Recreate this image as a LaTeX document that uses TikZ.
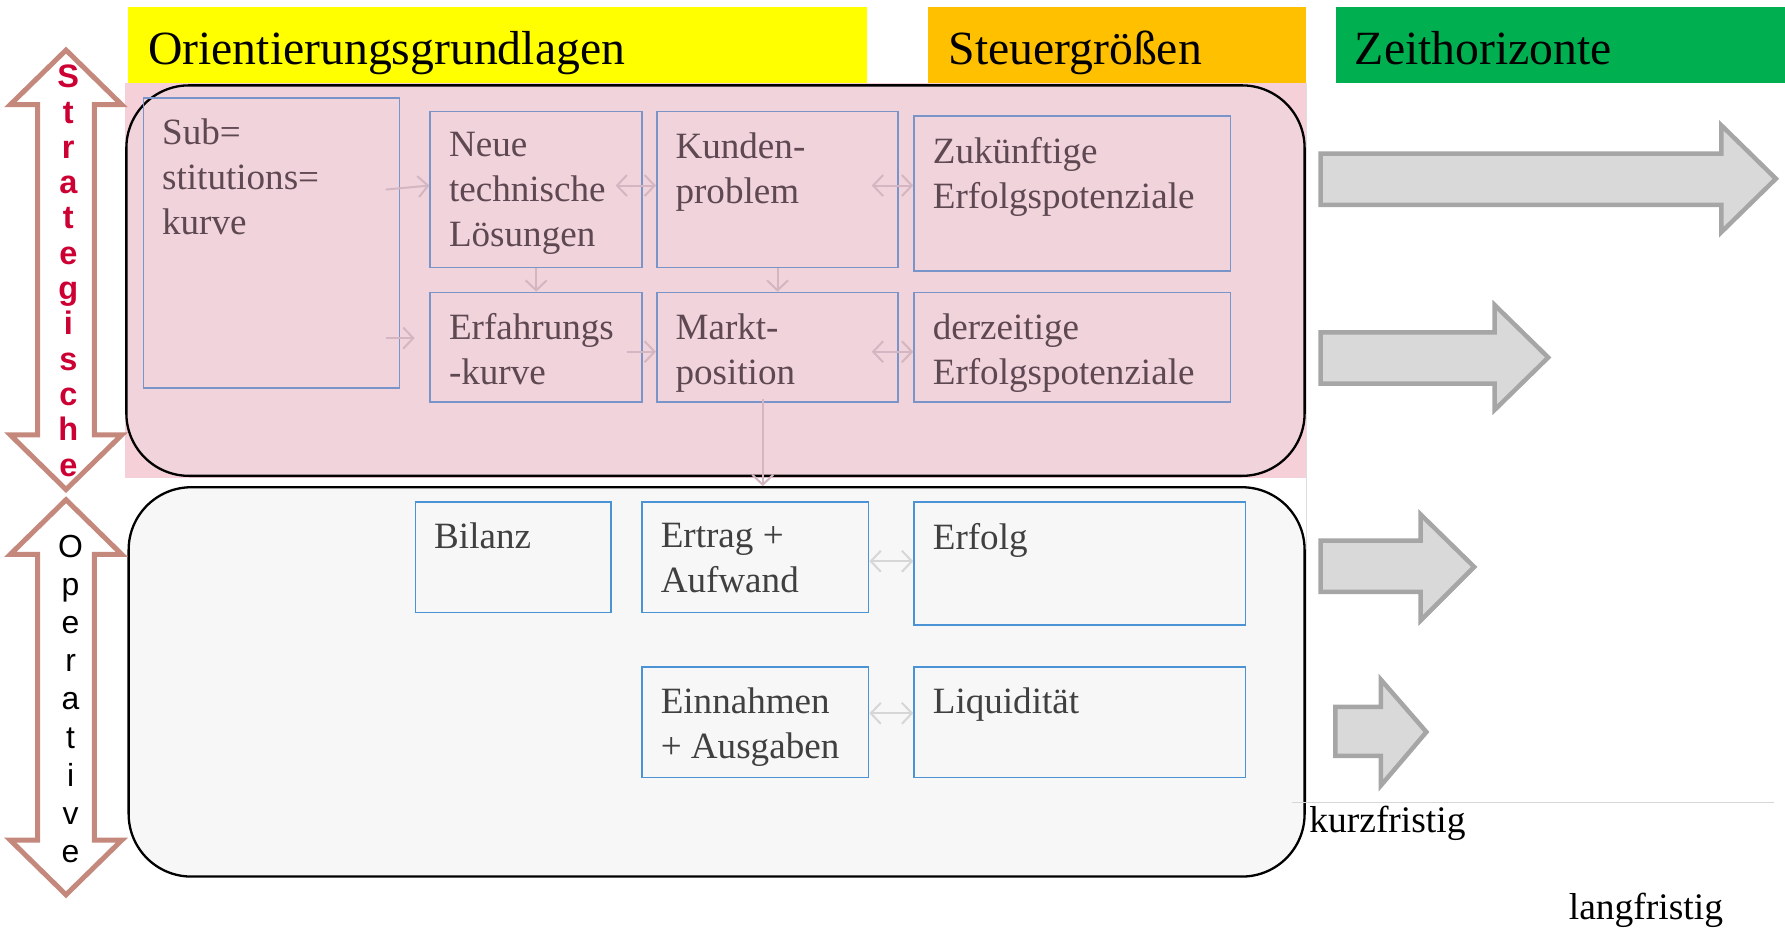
\documentclass[tikz,border=0pt]{standalone}
\usepackage{fontspec}
\setmainfont{Liberation Serif}
\newfontfamily\arialfont{Liberation Sans}
\usetikzlibrary{arrows.meta,fit}

\definecolor{hdryellow}{RGB}{255,255,0}
\definecolor{hdrorange}{RGB}{255,192,0}
\definecolor{hdrgreen}{RGB}{0,176,80}
\definecolor{pinkbg}{RGB}{246,208,217}
\definecolor{pinkin}{RGB}{241,211,219}
\definecolor{grayin}{RGB}{247,247,247}
\definecolor{boxblue}{RGB}{120,148,200}
\definecolor{boxbluetwo}{RGB}{74,148,214}
\definecolor{txtmauve}{RGB}{94,72,82}
\definecolor{txtgray}{RGB}{64,64,64}
\definecolor{connpink}{RGB}{212,182,194}
\definecolor{conngray}{RGB}{214,214,214}
\definecolor{arrowfill}{RGB}{217,217,217}
\definecolor{arrowline}{RGB}{166,166,166}
\definecolor{vbrown}{RGB}{196,137,124}
\definecolor{stratred}{RGB}{204,0,51}
\definecolor{faintline}{RGB}{222,222,222}

\newcommand\bxfont{\fontsize{37.1pt}{45pt}\selectfont}
\newcommand\hdrfont{\fontsize{47.7pt}{55pt}\selectfont}
\newcommand\ktfont{\fontsize{37.5pt}{45pt}\selectfont}
\newcommand\stratfont{\arialfont\bfseries\fontsize{32.5pt}{35.3pt}\selectfont}
\newcommand\opfont{\arialfont\fontsize{31.9pt}{38.1pt}\selectfont}

\begin{document}
\begin{tikzpicture}[x=1.1384pt,y=-1.1384pt,
  pbox/.style={draw=boxblue, line width=1.7pt, inner sep=0pt},
  gbox/.style={draw=boxbluetwo, line width=1.7pt, inner sep=0pt},
  ptxt/.style={anchor=north west, inner sep=0pt, align=left, text=txtmauve, font=\bxfont},
  gtxt/.style={ptxt, text=txtgray},
  hdr/.style={anchor=base west, inner sep=0pt, font=\hdrfont},
  conn/.style={draw=connpink, line width=2pt, -{Straight Barb[length=10pt,width=21pt]}},
  dconn/.style={draw=connpink, line width=2pt, {Straight Barb[length=10pt,width=21pt]}-{Straight Barb[length=10pt,width=21pt]}},
  blockarrow/.style={fill=arrowfill, draw=arrowline, line width=4.5pt},
  vdarrow/.style={fill=white, draw=vbrown, line width=5pt, line join=miter},
  panel/.style={draw=black, line width=2.3pt, rounded corners=62.6pt, inner sep=0pt}
]
\useasboundingbox (0,0) rectangle (1568,816);

% headers
\fill[hdryellow] (112,6) rectangle (762,73);
\fill[hdrorange] (815,6) rectangle (1147,73);
\fill[hdrgreen] (1174,6) rectangle (1568,73);
\node[hdr] (h1) at (130,57) {Orientierungsgrundlagen};
\node[hdr] (h2) at (833,57) {Steuergrößen};
\node[hdr] (h3) at (1190,57) {Zeithorizonte};

% background panels
\fill[pinkbg] (110,73) rectangle (1147,420);
\draw[faintline, line width=1.2pt] (1148,73) -- (1148,705);
\node[panel, fill=pinkin, fit={(111,75)(1146,418)}] (strat) {};
\node[panel, fill=grayin, fit={(113,428)(1146,770)}] (oprect) {};

% boxes
\node[pbox, fit={(126,86)(351,341)}] (sub) {};
\node[pbox, fit={(378,98)(564,235)}] (neue) {};
\node[pbox, fit={(577,98)(789,235)}] (kunden) {};
\node[pbox, fit={(803,102)(1081,238)}] (zukunft) {};
\node[pbox, fit={(378,257)(564,353)}] (erfahrung) {};
\node[pbox, fit={(577,257)(789,353)}] (markt) {};
\node[pbox, fit={(803,257)(1081,353)}] (derzeit) {};
\node[gbox, fit={(365,441)(537,538)}] (bilanz) {};
\node[gbox, fit={(564,441)(763,538)}] (ertrag) {};
\node[gbox, fit={(803,441)(1094,549)}] (erfolg) {};
\node[gbox, fit={(564,586)(763,683)}] (einnahmen) {};
\node[gbox, fit={(803,586)(1094,683)}] (liquid) {};

% box texts
\node[ptxt] (subT) at ([shift={(17,19)}]sub.north west) {Sub=\\stitutions=\\kurve};
\node[ptxt] (neueT) at ([shift={(17,19)}]neue.north west) {Neue\\technische\\Lösungen};
\node[ptxt] (kundenT) at ([shift={(17,19)}]kunden.north west) {Kunden-\\problem};
\node[ptxt] (zukunftT) at ([shift={(17,19)}]zukunft.north west) {Zukünftige\\Erfolgspotenziale};
\node[ptxt] (erfahrungT) at ([shift={(17,19)}]erfahrung.north west) {Erfahrungs\\-kurve};
\node[ptxt] (marktT) at ([shift={(17,19)}]markt.north west) {Markt-\\position};
\node[ptxt] (derzeitT) at ([shift={(17,19)}]derzeit.north west) {derzeitige\\Erfolgspotenziale};
\node[gtxt] (bilanzT) at ([shift={(17,19)}]bilanz.north west) {Bilanz};
\node[gtxt] (ertragT) at ([shift={(17,19)}]ertrag.north west) {Ertrag +\\Aufwand};
\node[gtxt] (erfolgT) at ([shift={(17,19)}]erfolg.north west) {Erfolg};
\node[gtxt] (einnahmenT) at ([shift={(17,19)}]einnahmen.north west) {Einnahmen\\+ Ausgaben};
\node[gtxt] (liquidT) at ([shift={(17,19)}]liquid.north west) {Liquidität};

% connectors
\draw[conn] ([xshift=-14.8pt]sub.east |- neue.west) -- ([yshift=4pt]neue.west);
\draw[conn] ([xshift=-14.8pt,yshift=9.1pt]sub.east |- erfahrung.west) -- ([xshift=-14.8pt,yshift=9.1pt]erfahrung.west);
\draw[dconn] ([xshift=-27.3pt,yshift=4pt]neue.east) -- ([yshift=4pt]kunden.west);
\draw[dconn] ([xshift=-27.3pt,yshift=4pt]kunden.east) -- ([yshift=4pt]kunden.east -| zukunft.west);
\draw[conn] (neue.south) -- (erfahrung.north);
\draw[conn] (kunden.south) -- (markt.north);
\draw[conn] ([xshift=-16pt,yshift=-4.5pt]erfahrung.east) -- ([yshift=-4.5pt]erfahrung.east -| markt.west);
\draw[dconn] ([xshift=-27.3pt,yshift=-4.5pt]markt.east) -- ([yshift=-4.5pt]derzeit.west);
\draw[conn] ([xshift=-14.8pt,yshift=4pt]markt.south) -- ([xshift=-14.8pt]markt.south |- oprect.north);
\draw[dconn, draw=conngray] ([yshift=-4pt]ertrag.east) -- ([yshift=-4pt]ertrag.east -| erfolg.west);
\draw[dconn, draw=conngray] ([yshift=9pt]einnahmen.east) -- ([yshift=9pt]liquid.west);

% vertical double arrows
\draw[vdarrow] (58,44) -- (107,92) -- (83,92) -- (83,382) -- (107,382) -- (58,430) -- (9,382) -- (33,382) -- (33,92) -- (9,92) -- cycle;
\draw[vdarrow] (58,439) -- (107,487) -- (83,487) -- (83,738) -- (107,738) -- (58,786) -- (9,738) -- (33,738) -- (33,487) -- (9,487) -- cycle;
\node[anchor=north, inner sep=0pt, align=center, text=stratred, font=\stratfont] (strattext) at (60,57) {S\\t\\r\\a\\t\\e\\g\\i\\s\\c\\h\\e};
\node[anchor=north, inner sep=0pt, align=center, text=black, font=\opfont] (optext) at (62,470) {O\\p\\e\\r\\a\\t\\i\\v\\e};

% time horizon block arrows
\draw[blockarrow] (1160,135) -- (1512,135) -- (1512,110) -- (1560,157) -- (1512,204) -- (1512,180) -- (1160,180) -- cycle;
\draw[blockarrow] (1160,292) -- (1313,292) -- (1313,268) -- (1360,314) -- (1313,360) -- (1313,337) -- (1160,337) -- cycle;
\draw[blockarrow] (1160,475) -- (1248,475) -- (1248,452) -- (1295,498) -- (1248,545) -- (1248,520) -- (1160,520) -- cycle;
\draw[blockarrow] (1173,621) -- (1213,621) -- (1213,597) -- (1253,643) -- (1213,690) -- (1213,664) -- (1173,664) -- cycle;

\draw[conngray, line width=1.5pt] (1135,705) -- (1558,705);
\node[anchor=base west, inner sep=0pt, font=\ktfont] (kurz) at (1150,731) {kurzfristig};
\node[anchor=base west, inner sep=0pt, font=\ktfont] (lang) at (1378,808) {langfristig};
\end{tikzpicture}
\end{document}
